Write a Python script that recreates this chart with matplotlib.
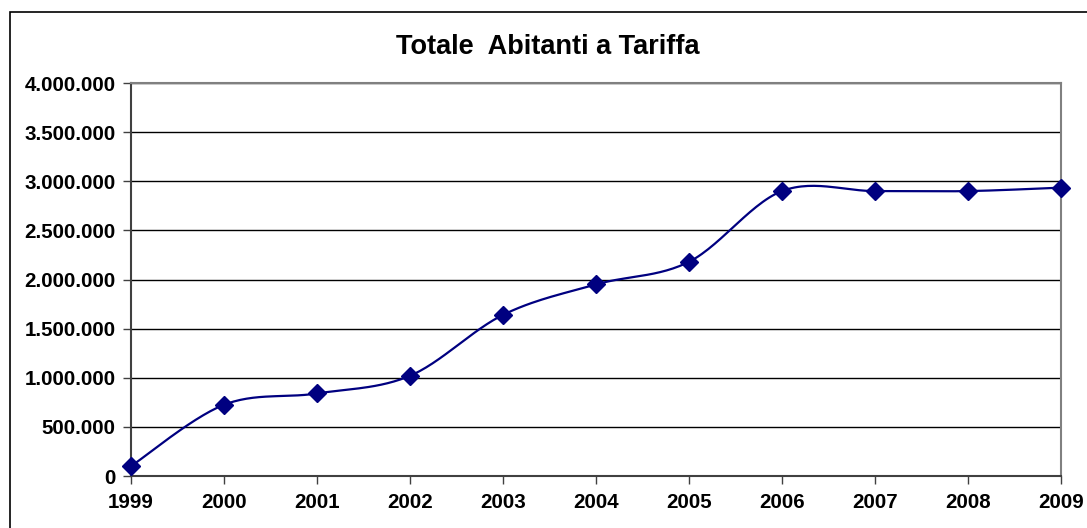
import numpy as np
import matplotlib
matplotlib.use("Agg")
import matplotlib.pyplot as plt
from matplotlib.patches import Rectangle
from matplotlib.ticker import FuncFormatter

years = [1999, 2000, 2001, 2002, 2003, 2004, 2005, 2006, 2007, 2008, 2009]
abitanti = [100000, 725000, 840000, 1020000, 1640000, 1950000, 2180000,
            2900000, 2900000, 2900000, 2935000]
title = "Totale  Abitanti a Tariffa"

plt.rcParams['font.family'] = ['Liberation Sans', 'DejaVu Sans']

fig = plt.figure(figsize=(10.87, 5.28), dpi=100)
ax = fig.add_axes([131/1087, 1-476/528, (1061-131)/1087, (476-83)/528])

# Excel-like smoothed line (Catmull-Rom Bezier through the data points)
x = np.array(years, dtype=float)
y = np.array(abitanti, dtype=float)
xs, ys = [], []
t = np.linspace(0, 1, 30)
n = len(x)
for i in range(n - 1):
    p0 = np.array([x[max(i-1, 0)], y[max(i-1, 0)]])
    p1 = np.array([x[i], y[i]])
    p2 = np.array([x[i+1], y[i+1]])
    p3 = np.array([x[min(i+2, n-1)], y[min(i+2, n-1)]])
    c1 = p1 + (p2 - p0) / 6.0
    c2 = p2 - (p3 - p1) / 6.0
    b = ((1-t)**3)[:, None]*p1 + (3*(1-t)**2*t)[:, None]*c1 + (3*(1-t)*t**2)[:, None]*c2 + (t**3)[:, None]*p2
    xs.extend(b[:, 0]); ys.extend(b[:, 1])

ax.plot(xs, ys, color='#000080', lw=1.6, zorder=3, clip_on=False)
ax.plot(years, abitanti, linestyle='none', marker='D', markersize=9,
        color='#000080', zorder=4, clip_on=False)

ax.set_xlim(1999, 2009)
ax.set_ylim(0, 4000000)
ax.set_xticks(years)
ax.set_yticks(np.arange(0, 4000001, 500000))
ax.yaxis.set_major_formatter(FuncFormatter(lambda v, p: f"{int(v):,}".replace(",", ".")))
ax.grid(axis='y', color='#000000', lw=1.0)
ax.set_axisbelow(True)
for lab in ax.get_xticklabels() + ax.get_yticklabels():
    lab.set_fontweight('bold')
ax.tick_params(axis='both', labelsize=14.8, direction='out', length=6, width=1,
               color='#404040', pad=5)
ax.tick_params(axis='x', pad=6)
for s in ['left', 'bottom']:
    ax.spines[s].set_color('#404040')
    ax.spines[s].set_linewidth(1.5)
for s in ['right', 'top']:
    ax.spines[s].set_color('#808080')
    ax.spines[s].set_linewidth(1.5)

fig.text(548/1087, 1-47/528, title, ha='center', va='center',
         fontsize=19.5, fontweight='bold')

# outer chart frame
fig.patches.append(Rectangle((10/1087, -0.05), 1.1, 1-12/528+0.05,
                             transform=fig.transFigure, fill=False,
                             edgecolor='black', lw=1.2))

fig.savefig('out.png', dpi=100)
